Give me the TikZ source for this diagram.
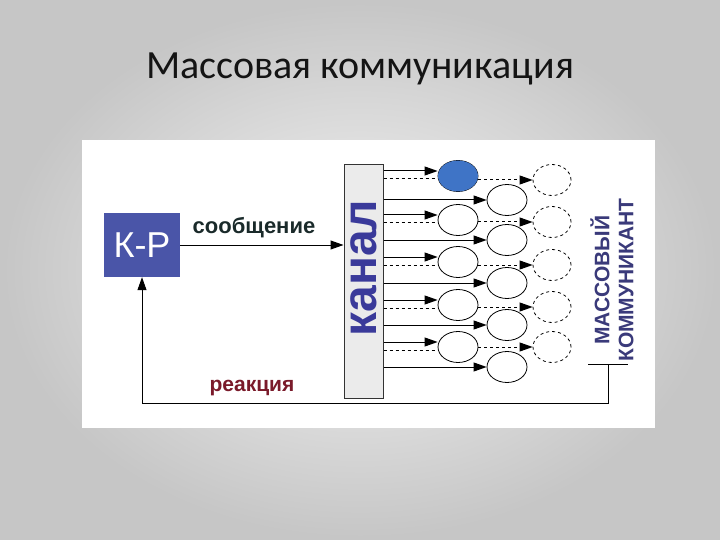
\documentclass[tikz,border=0pt]{standalone}
\usepackage{fontspec}
\setmainfont{Carlito}
\newfontfamily\arialf{Liberation Sans}
\usetikzlibrary{arrows.meta,shapes.geometric}
\definecolor{kpblue}{HTML}{4A55A8}
\definecolor{chtext}{HTML}{3A3A9A}
\definecolor{mktext}{HTML}{3A3A7A}
\definecolor{reac}{HTML}{7A1A2A}
\definecolor{msg}{HTML}{1A2A2A}
\definecolor{ballblue}{HTML}{3F74C6}
\begin{document}
\begin{tikzpicture}[x=1pt,y=-1pt,
  arr/.style={-{Triangle[length=13pt,width=9pt]},black,line width=1pt},
  circ/.style={ellipse,draw,line width=0.8pt,minimum width=40pt,minimum height=31pt,inner sep=0pt},
  dcirc/.style={circ,dashed,minimum width=38pt},
  dline/.style={dashed,line width=1pt}]
\useasboundingbox (0,0) rectangle (720,540);
\shade[inner color=white!92!gray,outer color=gray!45] (0,0) rectangle (720,540);
\fill[white] (82,140) rectangle (655,428);
\node (title) at (360,69) {\fontsize{40}{44}\selectfont\color{black!92}Массовая коммуникация};
\node[fill=kpblue,minimum width=76pt,minimum height=64pt,inner sep=0pt,text=white] (kp) at (142,245) {\arialf\fontsize{36}{38}\selectfont К-Р};
\node[draw=black!80,fill=black!8,line width=1pt,minimum width=39pt,minimum height=233pt,inner sep=0pt] (ch) at (363.5,281.5) {};
\node[rotate=90,text=chtext] (chl) at (363.5,268) {\arialf\bfseries\fontsize{48}{50}\selectfont канал};
\draw[arr] (kp.east) -- (ch.west|-kp.east);
\node[text=msg] (msgl) at (254,228) {\arialf\bfseries\fontsize{22}{24}\selectfont сообщение};
\foreach \i/\y in {1/176,2/220,3/262,4/305,5/347}{
  \node[circ] (a\i) at (458,\y) {};
  \draw[arr] (ch.east|-{(0,\y-5)}) -- (a\i.west|-{(0,\y-5)});
  \draw[dline] (ch.east|-{(0,\y+3)}) -- ([xshift=-1pt]a\i.west|-{(0,\y+3)});
}
\node[circ,draw=none,fill=ballblue] at (a1) {};
\foreach \i/\y in {1/200,2/240,3/283,4/325,5/367}{
  \node[circ] (b\i) at (507,\y) {};
  \draw[arr] (ch.east|-b\i) -- (b\i.west);
}
\foreach \i/\y in {1/180,2/222,3/265,4/307,5/347}{
  \node[dcirc] (c\i) at (552,\y) {};
  \draw[arr,dashed] (a\i.east|-c\i) -- (c\i.west);
}
\node[rotate=90,text=mktext,align=center,font=\arialf\bfseries\fontsize{21}{24}\selectfont] (mk) at (612,280) {МАССОВЫЙ\\КОММУНИКАНТ};
\coordinate (bl) at (588,364);
\coordinate (br) at (628,364);
\coordinate (bm) at (608,364);
\coordinate (bd) at (608,403);
\draw[line width=1pt] (bl) -- (br);
\draw[arr] (bm) -- (bd) -- (kp.south|-bd) -- (kp.south);
\node[text=reac] (rl) at (252,388) {\arialf\bfseries\fontsize{21}{24}\selectfont реакция};
\end{tikzpicture}
\end{document}
